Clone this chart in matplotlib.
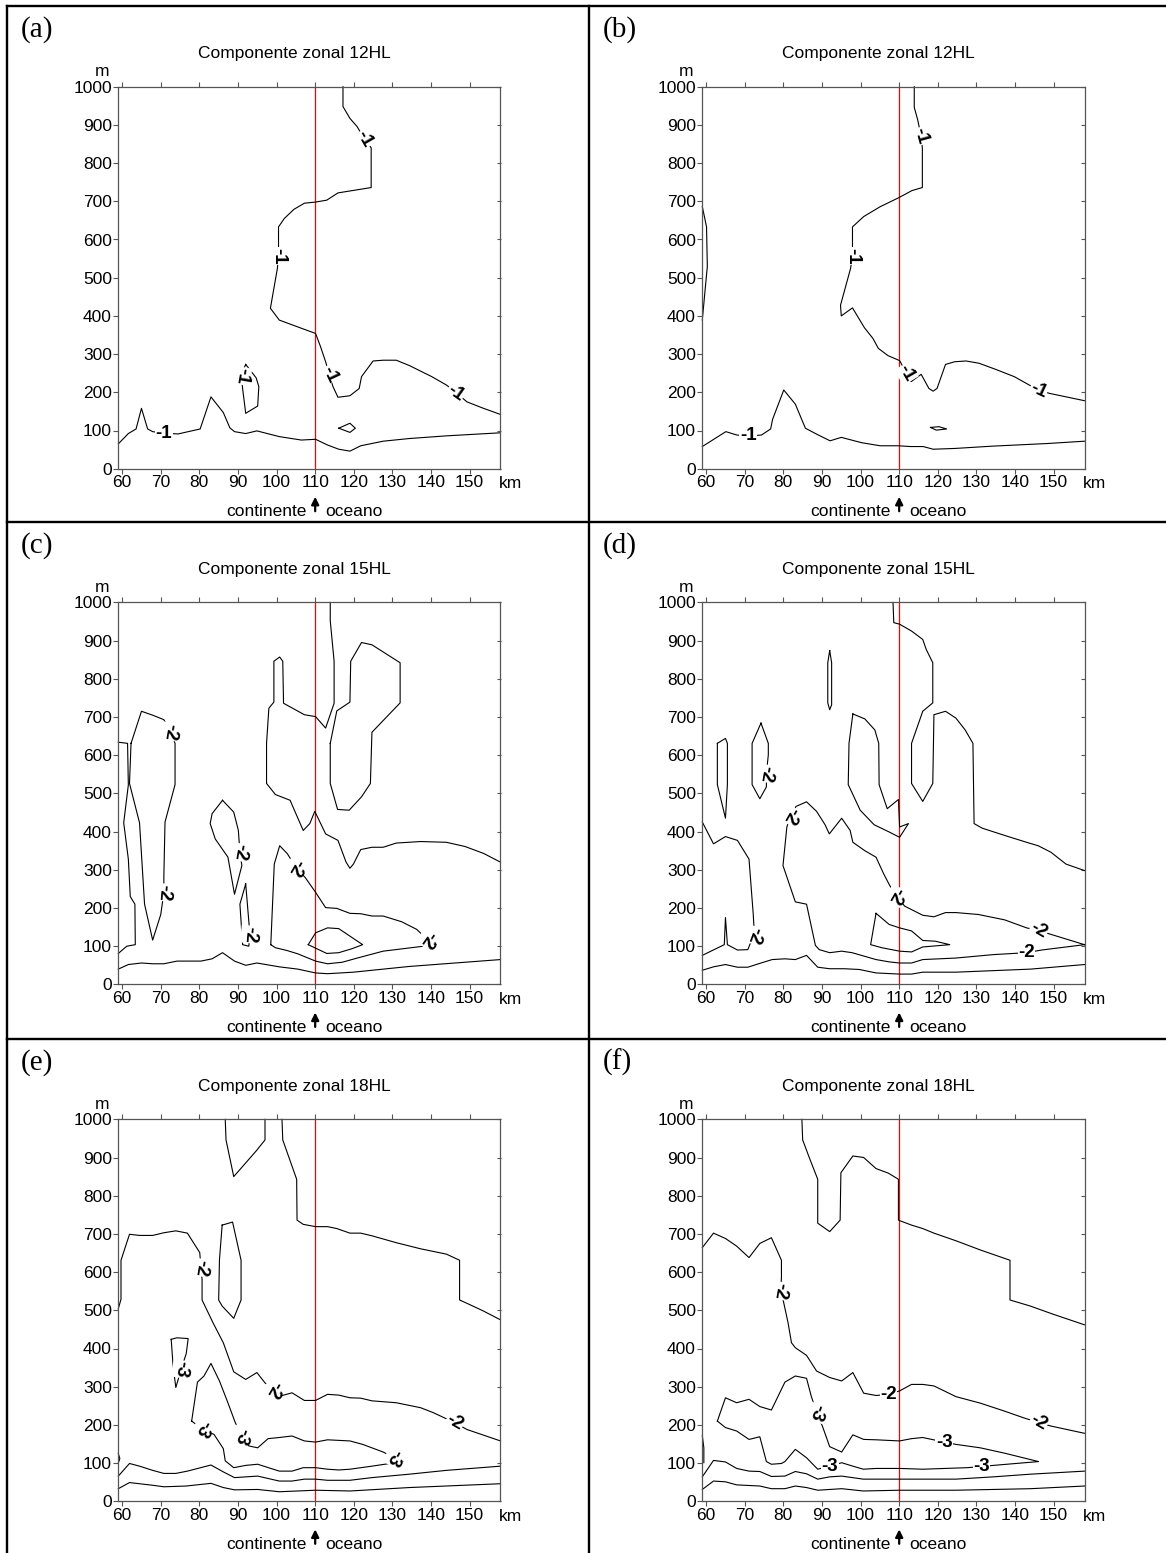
import matplotlib
matplotlib.use('Agg')
import matplotlib.pyplot as plt
from matplotlib.lines import Line2D

plt.rcParams['font.family'] = ['Liberation Sans', 'DejaVu Sans']

# contour lines, (km, m) pairs
a_c1 = [(117.2,1000),(117.2,948),(119.0,917),(120.9,895),(122.8,862),(124.5,840),(124.5,736),(115.9,722),(113.0,703),(110.1,698),(107.2,695),(104.5,679),(102.0,655),(100.5,633),(100.5,580),(100.5,555),(100.2,524),(98.4,420),(100.7,389),(110.1,354),(111.4,319),(112.7,280),(113.7,245),(114.6,215),(115.9,187),(119.0,191),(121.4,210),(122.0,241),(125.0,282),(127.6,284),(131.0,284),(134.4,270),(140.2,241),(144.0,219),(146.4,200),(149.3,175),(153.6,158),(158,142)]
a_c2 = [(59,65),(61.6,92),(63.6,104),(65.0,158),(66.6,104),(67.9,97),(70.8,93),(74.5,91),(80.2,104),(83.0,188),(86.2,147),(87.9,107),(89.1,97),(92.0,92),(94.9,99),(100.7,84),(106.4,75),(110.1,77),(113.2,62),(116.1,51),(119.0,46),(121.8,60),(127.6,72),(134.4,79),(144.0,86),(158,94)]
a_c3 = [(92.0,273),(94.7,238),(95.4,215),(95.1,164),(92.0,145),(91.2,210),(90.8,245),(92.0,273)]
a_c4 = [(116.1,106),(119.0,119),(120.4,106),(119.0,95),(116.1,106)]
a_labels = [(122.6,862,'-1',-60),(100.5,557,'-1',-90),(113.7,247,'-1',-65),(146.4,199,'-1',-35),(70.8,92,'-1',0),(91.0,243,'-1',-100)]

b_c1 = [(113.9,1000),(113.9,946),(114.8,913),(115.7,869),(116.0,839),(116.0,736),(113.3,728),(109.8,709),(105.1,686),(100.8,660),(97.9,633),(97.9,581),(97.9,555),(97.4,524),(94.8,428),(95.0,400),(97.9,421),(101.0,369),(103.2,341),(104.6,315),(107.1,296),(110.1,283),(111.9,250),(113.1,228),(115.7,247),(117.7,210),(118.8,203),(119.8,210),(122.0,273),(124.4,280),(127.3,282),(130.7,276),(135.0,260),(139.8,241),(143.7,219),(146.1,206),(149.0,197),(158,178)]
b_c2 = [(59,58),(65.1,97),(68.0,88),(70.9,86),(74.3,88),(76.7,104),(77.2,129),(80.1,206),(83.1,169),(85.7,106),(88.7,90),(92.1,73),(95.0,82),(100.3,68),(105.1,60),(109.8,60),(112.9,58),(116.2,58),(118.8,51),(124.4,53),(134.1,59),(148.5,66),(158,72)]
b_c3 = [(59,686),(60.1,633),(60.3,529),(59.8,476),(59,389)]
b_c4 = [(118.1,108),(120.3,110),(122.3,104),(119.6,101),(118.1,108)]
b_labels = [(115.7,871,'-1',-75),(97.9,557,'-1',-90),(111.9,250,'-1',-60),(146.1,206,'-1',-25),(70.9,86,'-1',0)]

c_c1 = [(113.9,1000),(113.9,952),(114.9,846),(114.9,736),(112.7,671),(110.1,701),(107.2,706),(101.8,736),(101.6,846),(100.8,857),(99.3,846),(99.3,739),(98.0,723),(97.4,631),(97.4,526),(99.7,497),(103.5,482),(105.0,447),(106.9,403),(108.6,421),(109.9,453),(112.7,394),(115.9,377),(118.0,320),(119.0,304),(119.9,315),(121.8,353),(124.7,359),(127.6,359),(131.0,370),(137.3,374),(144.0,372),(148.8,361),(153.6,343),(158,320)]
c_c2 = [(113.9,631),(115.6,716),(119.0,739),(119.2,846),(122.0,895),(124.7,889),(132.0,842),(132.0,737),(124.7,660),(124.3,526),(122.0,491),(118.8,456),(115.8,458),(113.9,526),(113.9,631)]
c_c3 = [(59,634),(61.4,631),(61.6,522),(60.4,423),(61.6,328),(62.1,230),(63.3,210),(63.4,104),(61.2,100),(59,81)]
c_c4 = [(62.3,631),(65.0,715),(68.1,704),(70.8,693),(72.5,662),(73.7,631),(73.7,523),(71.1,425),(70.8,284),(70.8,241),(70.0,183),(67.9,116),(65.8,210),(64.5,423),(61.9,526),(62.3,631)]
c_c5 = [(86.0,482),(88.9,451),(90.1,403),(90.5,346),(91.0,311),(89.1,236),(87.4,333),(84.1,381),(82.8,421),(83.3,447),(86.0,482)]
c_c6 = [(92.0,263),(90.5,210),(91.2,104),(92.8,100),(93.1,131),(92.8,166),(92.0,263)]
c_c7 = [(98.5,104),(99.4,315),(100.8,363),(102.8,342),(105.0,306),(107.4,280),(110.1,241),(112.7,201),(115.6,199),(119.0,186),(121.8,185),(124.7,179),(127.6,179),(132.4,164),(136.3,144),(139.0,118),(141.3,104),(127.6,87),(120.9,69),(117.0,58),(113.2,54),(110.1,61),(105.5,80),(102.6,89),(99.7,96),(98.5,104)]
c_c8 = [(108.2,104),(110.1,135),(113.2,148),(116.1,146),(122.3,104),(119.4,93),(116.1,83),(113.0,81),(108.2,104)]
c_c9 = [(59,40),(61.6,52),(65,56),(67.9,54),(70.8,54),(74.2,61),(80.4,61),(83.3,67),(86,83),(89.1,61),(92,50),(94.9,56),(100.7,46),(105.5,40),(110.1,30),(113.2,28),(119.9,32),(134.4,47),(158,65)]
c_labels = [(72.5,662,'-2',-100),(70.8,241,'-2',-95),(90.5,346,'-2',-100),(93.1,131,'-2',-95),(105.0,306,'-2',-120),(139.2,118,'-2',-125)]

d_c1 = [(108.4,1000),(108.6,947),(110.1,943),(113.2,925),(116.1,903),(117.0,877),(118.7,842),(118.7,737),(116.1,715),(113.2,631),(113.2,526),(116.1,479),(118.7,526),(119.0,706),(122.0,715),(124.7,697),(127.1,666),(129.1,631),(129.4,421),(131.5,409),(137.3,390),(143.0,372),(146.0,363),(149.3,346),(153.2,315),(158,298)]
d_c2 = [(98.0,708),(101.1,695),(103.7,666),(104.7,631),(104.8,523),(106.9,460),(109.8,484),(110.1,412),(112.4,421),(110.1,385),(107.4,399),(103.5,418),(99.9,456),(96.8,523),(97.0,631),(98.0,708)]
d_c3 = [(92.0,874),(92.5,842),(92.5,732),(92.0,719),(91.5,737),(91.5,842),(92.0,874)]
d_c4 = [(62.9,631),(65.0,644),(65.5,631),(65.5,523),(65.0,435),(62.9,523),(62.9,631)]
d_c5 = [(74.2,684),(76.1,631),(76.1,601),(75.6,552),(75.6,517),(73.9,486),(71.9,523),(71.9,631),(74.2,684)]
d_c6 = [(59,425),(61.9,368),(65.0,387),(68.1,377),(71.1,328),(72.2,183),(72.5,128),(71.3,104),(70.8,91),(68.1,90),(65.5,104),(65,175),(64.7,104),(59,76)]
d_c7 = [(158,104),(149.3,131),(146.1,141),(143.0,148),(137.3,169),(130.5,183),(124.7,188),(122.0,188),(119.0,177),(116.1,181),(111.4,205),(109.3,232),(107.6,258),(106.0,289),(104.0,333),(101.1,350),(98.0,372),(97.3,403),(95.1,435),(91.9,394),(90.8,418),(88.6,453),(86,478),(83.3,466),(81.9,442),(80.9,412),(79.9,311),(83.1,216),(86.0,210),(88.3,102),(89.3,91),(92.0,83),(95.1,87),(97.8,83),(104.0,65),(107.4,59),(110.1,56),(113.2,56),(116.1,65),(124.7,69),(134.4,78),(143.0,83),(146.9,90),(158,104)]
d_c8 = [(104.0,186),(107.4,157),(110.1,148),(113.2,140),(116.1,115),(119.4,113),(123.1,104),(116.1,98),(113.2,85),(110.1,87),(105.5,96),(102.6,104),(104.0,186)]
d_c9 = [(59,37),(61.9,46),(65,52),(68.1,45),(70.8,45),(74.2,56),(77.1,65),(80.4,67),(83.1,65),(86,76),(88.9,45),(92,41),(95.8,41),(99.7,39),(104,30),(110.1,27),(113.2,27),(116.1,32),(124.7,32),(144,40),(158,52)]
d_labels = [(75.6,552,'-2',-100),(72.5,128,'-2',-110),(81.9,442,'-2',-120),(109.3,232,'-2',-120),(146.1,141,'-2',-30),(143.0,83,'-2',0)]

e_c1 = [(86.7,1000),(86.9,946),(88.9,850),(94.7,917),(97.0,946),(97.0,1000)]
e_c2 = [(101.4,1000),(101.6,946),(105.2,843),(105.3,736),(106.9,725),(110.1,719),(113.2,719),(115.6,714),(119.0,702),(121.8,702),(124.7,695),(131.0,677),(137.3,661),(144.0,647),(147.4,631),(147.4,527),(149.8,516),(153.6,498),(158,475)]
e_c3 = [(85.9,723),(88.6,731),(90.8,631),(90.8,527),(88.9,479),(85.9,511),(85.0,527),(85.2,632),(85.9,723)]
e_c4 = [(59,504),(59.7,529),(59.7,631),(61.9,699),(64.5,696),(67.9,696),(70.8,703),(73.9,708),(76.9,702),(80.1,651),(80.4,612),(80.7,581),(80.7,527),(83.5,468),(86.2,415),(88.9,339),(92,319),(94.9,337),(97,310),(99.2,293),(101.1,276),(104.0,284),(107.2,264),(110.1,264),(113.2,280),(116.1,278),(119.0,271),(121.8,270),(124.7,263),(131.0,258),(137.3,245),(140.6,232),(146.1,206),(149.3,188),(158,158)]
e_c5 = [(72.7,424),(74.2,428),(77.1,426),(76.6,387),(75.3,346),(73.9,298),(73.2,354),(72.7,424)]
e_c6 = [(78.0,210),(79.5,312),(81.2,328),(83.0,361),(85.2,315),(87.2,263),(89.3,206),(91.0,171),(92.8,145),(95.1,140),(97.8,164),(100.7,167),(104.0,171),(107.2,158),(110.1,155),(113.2,161),(119.0,158),(122.3,149),(127.6,129),(130.5,114),(132.7,104),(124.7,92),(119,84),(116.1,82),(113.2,84),(110.1,88),(106.9,88),(104.0,79),(100.7,79),(95.1,97),(92.0,94),(88.9,88),(86.7,106),(86.2,138),(83.8,175),(80.9,188),(78.0,210)]
e_c7 = [(59,66),(61.9,99),(64.5,92),(67.9,81),(70.8,73),(73.9,73),(76.9,79),(83,95),(86.2,77),(89.1,62),(95.1,66),(100.7,53),(104,53),(107.2,58),(110.1,58),(113.2,55),(119,55),(124.7,62),(134.4,71),(144,81),(158,92)]
e_c8 = [(59,33),(61.9,49),(67.9,42),(70.8,38),(76.6,40),(83,47),(86.2,36),(89.1,30),(95.1,31),(100.7,25),(110.1,29),(119,27),(134.4,36),(158,46)]
e_c9 = [(59,125),(59.4,112),(59,100)]
e_labels = [(80.4,612,'-2',-100),(99.2,293,'-2',-120),(146.1,206,'-2',-30),(75.3,346,'-3',-100),(80.9,190,'-3',-120),(91.0,171,'-3',-110),(130.5,114,'-3',-120)]

f_c1 = [(84.8,1000),(85.0,946),(86.7,900),(88.9,843),(88.9,728),(92.0,706),(94.7,736),(94.9,860),(98.0,904),(100.8,900),(104.0,871),(107.2,859),(109.8,843),(109.8,736),(113.2,723),(116.1,714),(119.0,702),(124.7,682),(131.0,658),(138.7,631),(138.7,527),(144.0,511),(149.8,490),(158,462)]
f_c2 = [(59,664),(61.9,702),(65,688),(67.9,668),(71.1,638),(73.9,675),(76.9,690),(79.5,631),(79.5,586),(79.3,551),(80.0,524),(81.2,468),(82.1,415),(83.1,402),(86,382),(88.6,341),(92,324),(95.1,315),(98.0,337),(100.8,283),(104,277),(107.2,280),(110.1,289),(113.2,306),(116.1,306),(119,302),(124.7,274),(131,257),(137.3,236),(142.1,219),(146.1,206),(149.3,197),(158,178)]
f_c3 = [(62.9,210),(65,271),(67.9,258),(71.1,267),(73.9,248),(76.9,239),(80.4,312),(83.1,328),(86.0,322),(87.2,276),(88.6,232),(90.1,197),(92,143),(95.1,129),(98,174),(100.8,162),(104,161),(110.1,158),(113.2,164),(116.1,167),(121.7,155),(124.7,149),(131,140),(137.3,126),(146.1,104),(134.4,94),(131.3,91),(127.6,88),(121.8,86),(116.1,84),(110.3,86),(104,86),(100.7,84),(98,92),(95.1,101),(92,92),(88.9,84),(86,114),(83.1,136),(80.4,104),(79.5,99),(76.9,97),(75.6,104),(73.9,169),(71.1,162),(67.9,184),(65,193),(62.9,210)]
f_c4 = [(59,172),(59.4,140),(59.4,101)]
f_c5 = [(59,64),(61.9,107),(65,103),(67.9,86),(71.1,79),(73.9,78),(76.9,65),(80.4,66),(83.1,78),(86,72),(88.9,58),(92,64),(95.1,66),(100.7,58),(110.1,58),(124.7,58),(134.4,64),(144,71),(158,79)]
f_c6 = [(59,31),(61.9,53),(65,51),(67.9,43),(73.9,40),(76.9,33),(80.4,33),(83.1,40),(86,36),(88.9,29),(95.1,33),(100.7,27),(110.1,29),(124.7,29),(144,33),(158,40)]
f_labels = [(79.3,551,'-2',-100),(107.2,280,'-2',0),(146.1,206,'-2',-30),(88.6,232,'-3',-110),(121.7,155,'-3',0),(131.3,91,'-3',0),(92,92,'-3',0)]

letters = ['(a)', '(b)', '(c)', '(d)', '(e)', '(f)']
titles = ['Componente zonal 12HL', 'Componente zonal 12HL', 'Componente zonal 15HL',
          'Componente zonal 15HL', 'Componente zonal 18HL', 'Componente zonal 18HL']
panel_lines = [[a_c1, a_c2, a_c3, a_c4], [b_c1, b_c2, b_c3, b_c4],
               [c_c1, c_c2, c_c3, c_c4, c_c5, c_c6, c_c7, c_c8, c_c9],
               [d_c1, d_c2, d_c3, d_c4, d_c5, d_c6, d_c7, d_c8, d_c9],
               [e_c1, e_c2, e_c3, e_c4, e_c5, e_c6, e_c7, e_c8, e_c9],
               [f_c1, f_c2, f_c3, f_c4, f_c5, f_c6]]
panel_labels = [a_labels, b_labels, c_labels, d_labels, e_labels, f_labels]
x_ticks = [60, 70, 80, 90, 100, 110, 120, 130, 140, 150]
y_ticks = [0, 100, 200, 300, 400, 500, 600, 700, 800, 900, 1000]
coast_km = 110

W, H = 1166, 1553
fig = plt.figure(figsize=(W / 100, H / 100), dpi=100)


def fx(px):
    return px / W


def fy(py):
    return 1 - py / H


row_off = [0, 515.7, 1032.6]
FS = 12.5
for i in range(6):
    row, col = i // 2, i % 2
    ox = col * 584
    oy = row_off[row]
    L, T, AW, AH = 118.3 + ox, 86.7 + oy, 382.2, 382
    ax = fig.add_axes([fx(L), fy(T + AH), AW / W, AH / H])
    ax.set_xlim(59, 158)
    ax.set_ylim(0, 1000)
    ax.set_xticks(x_ticks)
    ax.set_yticks(y_ticks)
    ax.tick_params(direction='out', length=3.6, width=0.8, color='#555555',
                   labelsize=FS, pad=1, top=True)
    for s in ax.spines.values():
        s.set_color('#555555')
        s.set_linewidth(0.9)
    sec = ax.secondary_yaxis('right')
    sec.set_yticks(y_ticks)
    sec.tick_params(direction='in', length=3, width=0.8, color='#555555', labelright=False)
    sec.spines['right'].set_visible(False)

    ax.axvline(coast_km, color='red', lw=0.9, zorder=1)
    for line in panel_lines[i]:
        xs = [p[0] for p in line]
        ys = [p[1] for p in line]
        ax.plot(xs, ys, color='black', lw=0.8, zorder=2, clip_on=False)
    for x, y, s, r in panel_labels[i]:
        ax.text(x, y, s, rotation=r, ha='center', va='center', rotation_mode='anchor',
                fontsize=13.5, fontweight='bold', zorder=3,
                bbox=dict(fc='white', ec='none', pad=0.4))

    # texts around the axes
    fig.text(fx(21 + col * 582), fy(30 + oy), letters[i], family='Liberation Serif',
             fontsize=21, ha='left', va='center')
    fig.text(fx(294 + ox), fy(53.5 + oy), titles[i], fontsize=FS, ha='center', va='center')
    fig.text(fx(102.5 + ox), fy(72 + oy), 'm', fontsize=FS, ha='center', va='center')
    fig.text(fx(499 + ox), fy(483.5 + oy), 'km', fontsize=FS, ha='left', va='center')
    fig.text(fx(307 + ox), fy(512 + oy), 'continente', fontsize=FS, ha='right', va='center')
    fig.text(fx(325 + ox), fy(512 + oy), 'oceano', fontsize=FS, ha='left', va='center')
    ax.annotate('', xy=(coast_km, fy(494 + oy)), xytext=(coast_km, fy(514 + oy)),
                xycoords=('data', 'figure fraction'), textcoords=('data', 'figure fraction'),
                arrowprops=dict(arrowstyle='-|>', color='black', lw=1.6, mutation_scale=11),
                annotation_clip=False)

# table frame
frame = [((7, 7), (6, H)), ((7, W), (6, 6)), ((7, W), (521.7, 521.7)),
         ((7, W), (1039, 1039)), ((589, 589), (6, H))]
for xs, ys in frame:
    fig.add_artist(Line2D([fx(v) for v in xs], [fy(v) for v in ys], color='black',
                          lw=1.7, transform=fig.transFigure))

fig.savefig('out.png', dpi=100)
